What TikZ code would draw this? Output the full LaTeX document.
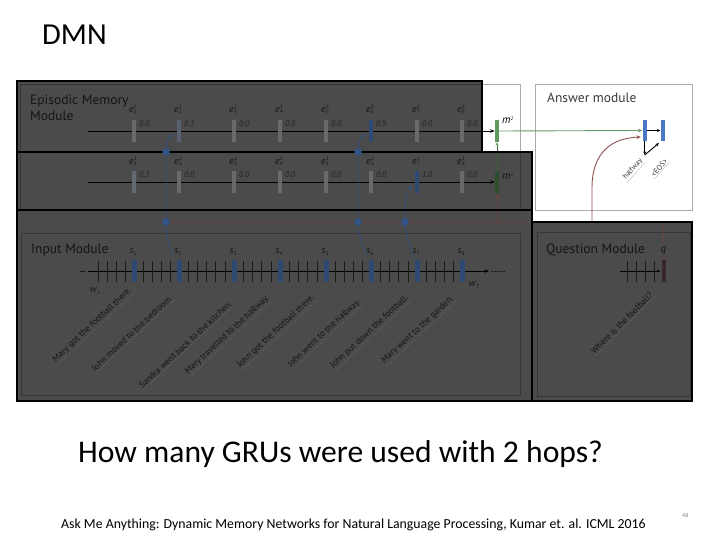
\documentclass[tikz,border=0pt]{standalone}
\usepackage{fontspec}
\setmainfont{Carlito}
\newfontfamily\figfont{PT Sans}
\usetikzlibrary{arrows.meta}
\definecolor{ovl}{HTML}{4B4B4B}
\definecolor{pnl}{HTML}{363636}
\definecolor{dtxt}{HTML}{141414}
\definecolor{vtxt}{HTML}{222222}
\definecolor{gbar}{HTML}{6A6A6A}
\definecolor{gbl}{HTML}{56606E}
\definecolor{gbl2}{HTML}{646A72}
\definecolor{bbar}{HTML}{2E4A72}
\definecolor{bdot}{HTML}{34558A}
\definecolor{bcon}{HTML}{33507D}
\definecolor{brn}{HTML}{6A4242}
\definecolor{brnl}{HTML}{8E5252}
\definecolor{grn}{HTML}{5E9A5E}
\definecolor{grnl}{HTML}{6A9A6A}
\definecolor{grnd}{HTML}{2E4C2E}
\definecolor{grnc}{HTML}{3E5E3E}
\definecolor{abar}{HTML}{4A78C4}
\definecolor{apnl}{HTML}{ABABAB}
\definecolor{atxt}{HTML}{3A3A3A}
\definecolor{qbar}{HTML}{3A2828}
\definecolor{ulc}{HTML}{616161}
\definecolor{tkc}{HTML}{1A1A1A}
\newcommand\ee[2]{\textit{e}\kern0.3pt\rlap{\raisebox{3.6pt}{\fontsize{5}{5}\selectfont #1}}\raisebox{-1.8pt}{\fontsize{5}{5}\selectfont #2}}
\newcommand\sidx[1]{\textit{s}\kern0.3pt\raisebox{-1.8pt}{\fontsize{5}{5}\selectfont #1}}
\newcommand\widx[1]{\textit{w}\kern0.3pt\raisebox{-1.8pt}{\fontsize{5}{5}\selectfont #1}}
\begin{document}
\begin{tikzpicture}[x=1pt,y=-1pt,
  arr/.style={-{Stealth[length=4.5pt,width=3.6pt]}},
  sarr/.style={-{Stealth[length=3.6pt,width=3pt]}},
  bord/.style={draw=black,line width=2.6pt},
  pnlst/.style={draw=pnl,line width=0.8pt},
  ebar/.style={rectangle,inner sep=0,minimum width=4pt,minimum height=22pt},
  sbar/.style={rectangle,inner sep=0,minimum width=5pt,minimum height=21.5pt,fill=bbar},
  modlbl/.style={anchor=base west,inner sep=0,text=dtxt,font={\figfont\fontsize{13.5}{15}\selectfont}},
  elbl/.style={inner sep=0,text=dtxt,font={\figfont\fontsize{10}{10}\selectfont}},
  vlbl/.style={anchor=west,inner sep=0,text=vtxt,font={\figfont\itshape\fontsize{8}{8}\selectfont}},
  sent/.style={rotate=43,anchor=east,inner sep=1pt,text=dtxt,font={\figfont\fontsize{8.8}{9}\selectfont}},
  uln/.style={draw=ulc,line width=0.5pt,dash pattern=on 1.2pt off 0.6pt},
  tickst/.style={draw=tkc,line width=0.6pt},
  conn/.style={draw=bcon,line width=0.8pt},
  dotst/.style={circle,fill=bdot,inner sep=0,minimum size=7.5pt},
  slide/.style={anchor=base west,inner sep=0,text=black}]
\useasboundingbox (0,0) rectangle (720,540);
\fill[white] (0,0) rectangle (720,540);
% slide texts
\node[slide,font={\fontsize{30.5}{30}\selectfont}] (title) at (42,45) {DMN};
\node[slide,font={\fontsize{31.6}{31}\selectfont}] (quest) at (78,462) {How many GRUs were used with 2 hops?};
\node[slide,font={\fontsize{13.8}{13}\selectfont}] (cite) at (61,528) {Ask Me Anything: Dynamic Memory Networks for Natural Language Processing, Kumar et. al. ICML 2016};
\node[slide,text=gray,font={\fontsize{6}{6}\selectfont}] (pnum) at (682,517) {48};
% white parts of original figure
\draw[apnl,line width=0.7pt] (482,84) -- (520,84) -- (520,152);
\draw[apnl,line width=0.7pt] (535,84) rectangle (692,210);
\coordinate (qj) at (663.5,222);
\coordinate (mj) at (497,222);
% overlay fills
\fill[ovl] (17,81) rectangle (482,152);
\fill[ovl] (17,152) rectangle (532,401);
\fill[ovl] (532,222) rectangle (692,401);
% inner panels
\draw[pnlst] (20,209) -- (20,84) -- (482,84);
\draw[pnlst] (520,152) -- (520,209);
\draw[pnlst] (21,233) rectangle (520,395);
\draw[pnlst] (537,232) rectangle (690,396);
% module labels
\node[modlbl] (epi) at (30,105) {Episodic Memory};
\node[modlbl] (epi2) at (30,120.5) {Module};
\node[modlbl] (inp) at (31,253) {Input Module};
\node[modlbl] (qm) at (546,254) {Question Module};
\node[modlbl,text=atxt] (am) at (547,103) {Answer module};
% episodic row lines
\coordinate (r2s) at (88,131); \coordinate (r2e) at (494.7,131);
\coordinate (r1s) at (88,182); \coordinate (r1e) at (494.7,182);
\draw[line width=0.9pt,arr] (r2s) -- (r2e);
\draw[line width=0.9pt,arr] (r1s) -- (r1e);
% input line
\coordinate (is) at (88,271); \coordinate (ie) at (489,271);
\draw[line width=0.9pt,arr] (is) -- (ie);
\draw[draw=tkc,line width=0.6pt] (80,271) -- (85,271);
\draw[draw=tkc,line width=0.6pt,dash pattern=on 1.5pt off 1.5pt] (491,271) -- (506,271);
% ticks
\foreach \a/\b/\n in {89/134/4,134/179/4,179/234/5,234/280/4,280/326/4,326/371/4,371/417/4,417/462/4}{
  \foreach \k in {1,...,\n}{
    \draw[tickst] ({\a+\k*(\b-\a)/(\n+1)},261) -- ++(0,21);
  }
}
% connectors (below borders)
\coordinate (s2c) at (173,257);
\coordinate (s6c) at (367,257);
\coordinate (s7c) at (414,257);
\coordinate (dl1c) at (166,222); \coordinate (dl2c) at (358,222); \coordinate (dl3c) at (405,222);
\coordinate (du1c) at (166,152); \coordinate (du2c) at (358,152);
\coordinate (a22) at (172.5,134.5);
\coordinate (a62) at (365,134.5);
\coordinate (a71) at (412,186.5);
\draw[conn] (s2c) .. controls (170,247) and (166,236) .. (dl1c) -- (du1c);
\draw[conn,sarr] (du1c) .. controls (166,143) and (168,138) .. (a22);
\draw[conn] (s6c) .. controls (364,247) and (358,236) .. (dl2c) -- (du2c);
\draw[conn,sarr] (du2c) .. controls (358,143) and (360,138) .. (a62);
\draw[conn] (s7c) .. controls (411,247) and (405,236) .. (dl3c);
\draw[conn,sarr] (dl3c) .. controls (405,200) and (406,191) .. (a71);
% nodes: memory bars
\node[ebar,fill=grn] (m2) at (497,131) {};
\node[ebar,fill=grnd] (m1) at (497,182.5) {};
\node[inner sep=0,anchor=west,text=black,font={\figfont\itshape\fontsize{11}{11}\selectfont}] (m2l) at (502,120) {m\raisebox{3.5pt}{\fontsize{5}{5}\selectfont 2}};
\node[inner sep=0,anchor=west,text=dtxt,font={\figfont\itshape\fontsize{11}{11}\selectfont}] (m1l) at (502,176) {m\raisebox{3.5pt}{\fontsize{5}{5}\selectfont 1}};
% q line and feedback lines
\draw[brn,line width=0.7pt] (qj) -- (mj);
\draw[brn,line width=0.8pt,sarr] (mj) -- (m1.south);
\draw[grnc,line width=0.8pt] (m1.north) -- (497,146);
\draw[grn,line width=0.8pt,sarr] (497,147) -- (m2.south);
\coordinate (mu) at (497,152);
\draw[black,line width=0.6pt,sarr] (mu) -- (361.5,152);
\draw[black,line width=0.6pt,sarr] (354.5,152) -- (169.5,152);
\draw[brn,line width=0.7pt,sarr] (mj) -- (408.5,222);
\draw[brn,line width=0.7pt,sarr] (401.5,222) -- (361.5,222);
\draw[brn,line width=0.7pt,sarr] (354.5,222) -- (169.5,222);
% episodic bars row 2
\foreach \i/\x/\v/\c in {1/134/0.0/gbar,2/179/0.3/gbl,3/234/0.0/gbar,4/280/0.0/gbar,5/326/0.0/gbar,6/371/0.9/bbar,7/417/0.0/gbar,8/462/0.0/gbar}{
  \node[ebar,fill=\c] (e2b\i) at (\x,131) {};
  \node[elbl] (e2l\i) at (\x-1,109.5) {\ee{2}{\i}};
  \node[vlbl] (e2v\i) at (\x+5,124) {\v};
}
% episodic bars row 1
\foreach \i/\x/\v/\c in {1/134/0.3/gbl2,2/179/0.0/gbar,3/234/0.0/gbar,4/280/0.0/gbar,5/326/0.0/gbar,6/371/0.0/gbar,7/417/1.0/bbar,8/462/0.0/gbar}{
  \node[ebar,fill=\c] (e1b\i) at (\x,182.5) {};
  \node[elbl] (e1l\i) at (\x-1,161.5) {\ee{1}{\i}};
  \node[vlbl] (e1v\i) at (\x+5,175) {\v};
}
% input sentence bars
\foreach \i/\x in {1/134,2/179,3/234,4/280,5/326,6/371,7/417,8/462}{
  \node[sbar] (s\i) at (\x,271) {};
  \node[elbl,font={\figfont\fontsize{9.5}{9}\selectfont}] (sl\i) at (\x-1,252) {\sidx{\i}};
}
\node[elbl] (w1) at (95,291) {\widx{1}};
\node[elbl] (wT) at (474,285) {\widx{T}};
% sentences
\foreach \n/\x/\y/\t in {1/131/289/{Mary got the football there.},2/172/296/{John moved to the bedroom.},3/231/302/{Sandra went back to the kitchen.},4/269/296/{Mary travelled to the hallway.},5/314/296/{John got the football there.},6/360/300/{John went to the hallway.},7/408/296/{John put down the football.},8/453/297/{Mary went to the garden.}}{
  \node[sent] (t\n) at (\x,\y) {\t};
  \draw[uln] (t\n.south west) -- (t\n.south east);
}
% question module
\coordinate (qls) at (620,271);
\draw[line width=0.8pt,sarr] (qls) -- (660.5,271);
\foreach \x in {627,636,645,654}{\draw[tickst] (\x,261) -- ++(0,21);}
\node[ebar,fill=qbar] (qb) at (663.7,271) {};
\node[inner sep=0,text=dtxt,font={\figfont\itshape\fontsize{11}{11}\selectfont}] (ql) at (663.5,251) {q};
\coordinate (qt) at (663.5,243);
\draw[brn,line width=0.7pt] (qt) -- (qj);
\node[sent,rotate=2] (tq) at (652,293) {Where is the football?};
\draw[uln] (tq.south west) -- (tq.south east);
% answer module
\node[ebar,minimum height=21pt,fill=abar] (a1) at (644.7,130.5) {};
\node[ebar,minimum height=21pt,fill=abar] (a2) at (662.7,130.5) {};
\draw[grnl,line width=0.9pt,arr] (m2.east) -- (a1.west);
\coordinate (qa) at (592,222);
\coordinate (qae) at (641,137);
\draw[brnl,line width=0.9pt,arr] (qa) -- (592,188) .. controls (592,152) and (612,138) .. (qae);
\draw[black,line width=0.9pt,sarr] (a1.east) -- (a2.west);
\coordinate (hw) at (644.7,155);
\coordinate (hw2) at (659,143);
\draw[black,line width=0.9pt,sarr] (a1.south) -- (hw);
\draw[black,line width=0.9pt,sarr] (hw) -- (hw2);
\node[rotate=48,anchor=east,inner sep=1pt,text=atxt,font={\figfont\fontsize{7.5}{7}\selectfont}] (hwt) at (642,159) {halfway};
\node[rotate=48,anchor=east,inner sep=1pt,text=atxt,font={\figfont\fontsize{7.5}{7}\selectfont}] (eos) at (667,159) {\textless EOS\textgreater};
\draw[draw=apnl!70,line width=0.5pt] (hwt.south west) -- (hwt.south east);
\draw[draw=apnl!70,line width=0.5pt] (eos.south west) -- (eos.south east);
% overlay borders
\draw[bord] (17,81) rectangle (482,152);
\draw[bord] (17,152) rectangle (532,210);
\draw[bord] (17,210) rectangle (532,401);
\draw[bord] (532,222) rectangle (692,401);
% dots on top
\node[dotst] (dl1) at (dl1c) {};
\node[dotst] (dl2) at (dl2c) {};
\node[dotst] (dl3) at (dl3c) {};
\node[dotst] (du1) at (du1c) {};
\node[dotst] (du2) at (du2c) {};
\end{tikzpicture}
\end{document}
